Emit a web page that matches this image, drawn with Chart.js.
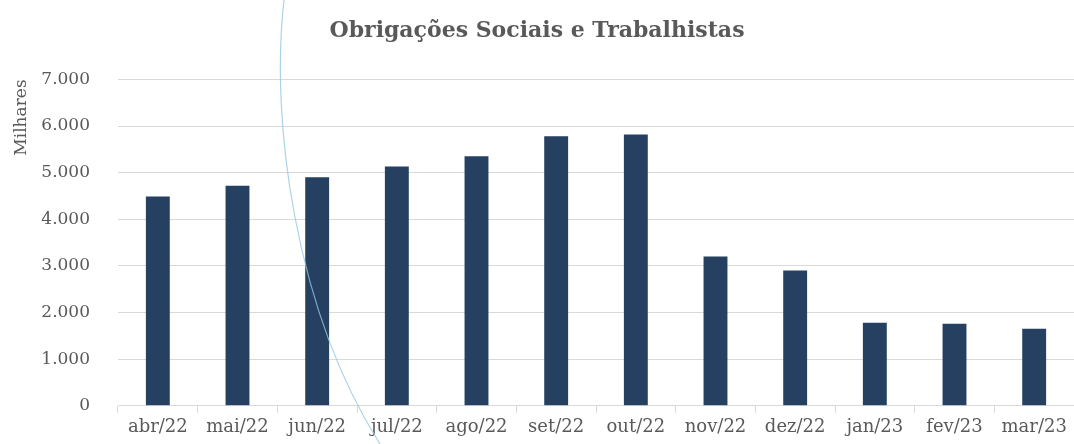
<!DOCTYPE html>
<html>
<head>
<meta charset="utf-8">
<script src="https://cdn.jsdelivr.net/npm/chart.js@4"></script>
<style>
  html, body { margin: 0; padding: 0; background: #fff; }
  #wrap { width: 1074px; height: 444px; }
</style>
</head>
<body>
<div id="wrap"><canvas id="chart"></canvas></div>
<script>
const meses = ["abr/22", "mai/22", "jun/22", "jul/22", "ago/22", "set/22", "out/22", "nov/22", "dez/22", "jan/23", "fev/23", "mar/23"];
const valores = [4490, 4720, 4900, 5130, 5350, 5780, 5820, 3200, 2900, 1780, 1760, 1650];
const yTicks = [0, 1000, 2000, 3000, 4000, 5000, 6000, 7000];

const serif = "'DejaVu Serif', 'Liberation Serif', serif";
const cinza = "#595959";

// light blue arc that crosses the original picture
const arco = {
  id: "arco",
  afterDraw(chart) {
    const ctx = chart.ctx;
    ctx.save();
    ctx.strokeStyle = "rgba(150, 200, 225, 0.8)";
    ctx.lineWidth = 1.2;
    ctx.beginPath();
    ctx.moveTo(284, 0);
    ctx.bezierCurveTo(270, 120, 295, 310, 380, 444);
    ctx.stroke();
    ctx.restore();
  }
};

const ctx = document.getElementById("chart").getContext("2d");
new Chart(ctx, {
  type: "bar",
  data: {
    labels: meses,
    datasets: [{
      data: valores,
      backgroundColor: "#254061",
      categoryPercentage: 1,
      barPercentage: 0.3
    }]
  },
  options: {
    responsive: true,
    maintainAspectRatio: false,
    animation: false,
    layout: { padding: { left: 0, right: 0, top: 0, bottom: 0 } },
    plugins: {
      legend: { display: false },
      tooltip: { enabled: false },
      title: {
        display: true,
        text: "Obrigações Sociais e Trabalhistas",
        color: cinza,
        font: { family: serif, size: 22, weight: "bold" },
        padding: { top: 18, bottom: 35 }
      }
    },
    scales: {
      x: {
        grid: { drawOnChartArea: false, drawTicks: true, tickLength: 7, color: "#d9d9d9" },
        border: { color: "#d9d9d9" },
        ticks: { color: cinza, font: { family: serif, size: 18 }, padding: 4, maxRotation: 0, autoSkip: false }
      },
      y: {
        min: 0,
        max: 7000,
        afterBuildTicks(scale) { scale.ticks = yTicks.map(v => ({ value: v })); },
        afterFit(scale) { scale.width = 118; },
        grid: { color: "#d9d9d9", drawTicks: false },
        border: { display: false },
        ticks: {
          color: cinza,
          font: { family: serif, size: 17 },
          padding: 28,
          callback: v => v.toLocaleString("pt-BR")
        },
        title: {
          display: true,
          text: "Milhares",
          align: "end",
          color: cinza,
          font: { family: serif, size: 17 },
          padding: { top: 11, bottom: 0 }
        }
      }
    }
  },
  plugins: [arco]
});
</script>
</body>
</html>
